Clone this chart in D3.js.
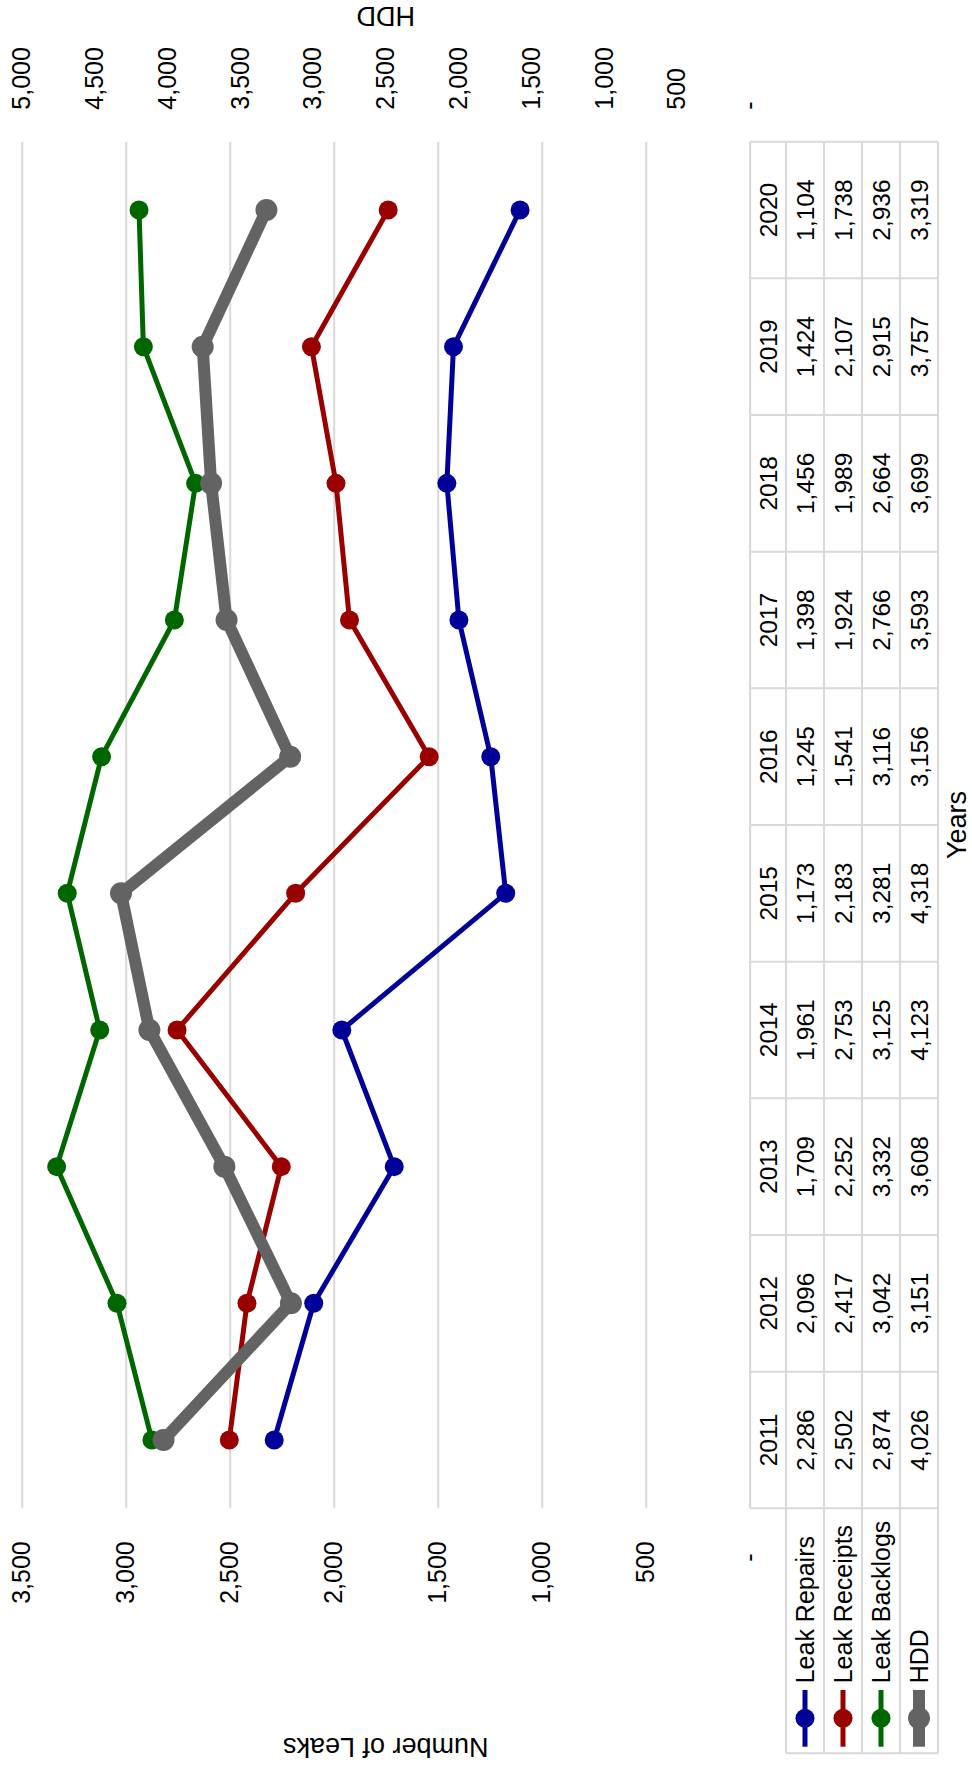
<!DOCTYPE html>
<html>
<head>
<meta charset="utf-8">
<script src="https://cdnjs.cloudflare.com/ajax/libs/d3/7.8.5/d3.min.js"></script>
<style>
    body { margin: 0; background: #fff; }
    text { font-family: "Liberation Sans", Arial, sans-serif; fill: #000; }
    .grid line { stroke: #d9d9d9; stroke-width: 2; }
    .grid path, .axis path { display: none; }
    .axis text { font-size: 25px; }
    .table-line { stroke: #d9d9d9; stroke-width: 2; }
    .cell { font-size: 24.5px; }
</style>
</head>
<body>
<div class="chart-container"></div>
<script>
var years = [2011, 2012, 2013, 2014, 2015, 2016, 2017, 2018, 2019, 2020];
var leakRepairs = [2286, 2096, 1709, 1961, 1173, 1245, 1398, 1456, 1424, 1104];
var leakReceipts = [2502, 2417, 2252, 2753, 2183, 1541, 1924, 1989, 2107, 1738];
var leakBacklogs = [2874, 3042, 3332, 3125, 3281, 3116, 2766, 2664, 2915, 2936];
var hdd = [4026, 3151, 3608, 4123, 4318, 3156, 3593, 3699, 3757, 3319];
var leftTicks = [0, 500, 1000, 1500, 2000, 2500, 3000, 3500];
var rightTicks = [0, 500, 1000, 1500, 2000, 2500, 3000, 3500, 4000, 4500, 5000];

var pageWidth = 972,
    pageHeight = 1771;

// the chart is built in landscape and then turned a quarter to the left
var width = pageHeight,
    height = pageWidth;

var plot = { left: 262.7, right: 1629.3, top: 21.7, bottom: 749.7 };

var svg = d3.select(".chart-container").append("svg")
    .attr("width", pageWidth)
    .attr("height", pageHeight);

var chart = svg.append("g")
    .attr("transform", "translate(0," + pageHeight + ") rotate(-90)");

var x = d3.scaleBand()
    .domain(years)
    .range([plot.left, plot.right]);

var yLeft = d3.scaleLinear()
    .domain([0, 3500])
    .range([plot.bottom, plot.top]);

var yRight = d3.scaleLinear()
    .domain([0, 5000])
    .range([plot.bottom, plot.top]);

var fmt = d3.format(",");
function tickText(d) { return d === 0 ? "-" : fmt(d); }

var series = [
    { name: "Leak Repairs", values: leakRepairs, color: "#000099", lineWidth: 5, r: 9.5, scale: yLeft },
    { name: "Leak Receipts", values: leakReceipts, color: "#990000", lineWidth: 5, r: 9.5, scale: yLeft },
    { name: "Leak Backlogs", values: leakBacklogs, color: "#006600", lineWidth: 5, r: 9.5, scale: yLeft },
    { name: "HDD", values: hdd, color: "#636363", lineWidth: 12, r: 11, scale: yRight }
];

// gridlines
chart.append("g")
    .attr("class", "grid")
    .attr("transform", "translate(" + plot.left + ",0)")
    .call(d3.axisLeft(yLeft).tickValues(leftTicks).tickSize(-(plot.right - plot.left)).tickFormat(""));

// left axis
var leftAxis = chart.append("g")
    .attr("class", "axis")
    .attr("transform", "translate(" + plot.left + ",0)")
    .call(d3.axisLeft(yLeft).tickValues(leftTicks).tickSize(0).tickPadding(33).tickFormat(tickText));

leftAxis.selectAll(".tick text")
    .filter(function(d) { return d === 0; })
    .attr("x", -45);

// right axis
chart.append("g")
    .attr("class", "axis")
    .attr("transform", "translate(" + plot.right + ",0)")
    .call(d3.axisRight(yRight).tickValues(rightTicks).tickSize(0).tickPadding(32).tickFormat(tickText));

// axis titles
chart.append("text")
    .attr("transform", "translate(33," + (plot.top + plot.bottom) / 2 + ") rotate(-90)")
    .style("text-anchor", "middle")
    .style("font-size", "27px")
    .text("Number of Leaks");

chart.append("text")
    .attr("transform", "translate(1764," + (plot.top + plot.bottom) / 2 + ") rotate(-90)")
    .style("text-anchor", "middle")
    .style("font-size", "27px")
    .text("HDD");

chart.append("text")
    .attr("x", (plot.left + plot.right) / 2)
    .attr("y", 966)
    .style("text-anchor", "middle")
    .style("font-size", "27px")
    .text("Years");

// series
var cx = function(d, i) { return x(years[i]) + x.bandwidth() / 2; };

var lines = chart.selectAll(".series")
    .data(series)
    .enter().append("g")
    .attr("class", "series");

lines.append("path")
    .attr("fill", "none")
    .attr("stroke", function(d) { return d.color; })
    .attr("stroke-width", function(d) { return d.lineWidth; })
    .attr("stroke-linejoin", "round")
    .attr("d", function(s) {
        return d3.line()
            .x(cx)
            .y(function(v) { return s.scale(v); })(s.values);
    });

lines.each(function(s) {
    d3.select(this).selectAll("circle")
        .data(s.values)
        .enter().append("circle")
        .attr("cx", cx)
        .attr("cy", function(v) { return s.scale(v); })
        .attr("r", s.r)
        .attr("fill", s.color);
});

// data table
var table = chart.append("g").attr("class", "data-table");
var tableTop = 750,
    headerBottom = 786,
    rowHeight = 38,
    legendLeft = 17.7;

var rowY = series.map(function(s, i) { return headerBottom + i * rowHeight; });
var tableBottom = headerBottom + series.length * rowHeight;

table.append("line")
    .attr("class", "table-line")
    .attr("x1", plot.left).attr("x2", plot.right)
    .attr("y1", tableTop).attr("y2", tableTop);

table.selectAll(".hline")
    .data(rowY.concat([tableBottom]))
    .enter().append("line")
    .attr("class", "table-line")
    .attr("x1", legendLeft).attr("x2", plot.right)
    .attr("y1", function(d) { return d; }).attr("y2", function(d) { return d; });

table.selectAll(".vline")
    .data(years.concat(["end"]))
    .enter().append("line")
    .attr("class", "table-line")
    .attr("x1", function(d, i) { return plot.left + i * x.bandwidth(); })
    .attr("x2", function(d, i) { return plot.left + i * x.bandwidth(); })
    .attr("y1", tableTop).attr("y2", tableBottom);

table.append("line")
    .attr("class", "table-line")
    .attr("x1", legendLeft).attr("x2", legendLeft)
    .attr("y1", headerBottom).attr("y2", tableBottom);

table.selectAll(".year-cell")
    .data(years)
    .enter().append("text")
    .attr("class", "cell")
    .attr("x", function(d) { return x(d) + x.bandwidth() / 2; })
    .attr("y", (tableTop + headerBottom) / 2)
    .attr("dy", "0.35em")
    .style("text-anchor", "middle")
    .text(function(d) { return d; });

series.forEach(function(s, i) {
    var rowMid = rowY[i] + rowHeight / 2;
    var row = table.append("g");

    row.selectAll("text")
        .data(s.values)
        .enter().append("text")
        .attr("class", "cell")
        .attr("x", cx)
        .attr("y", rowMid)
        .attr("dy", "0.35em")
        .style("text-anchor", "middle")
        .text(function(d) { return fmt(d); });

    // legend key
    row.append("line")
        .attr("x1", 24.3).attr("x2", 81)
        .attr("y1", rowMid).attr("y2", rowMid)
        .attr("stroke", s.color)
        .attr("stroke-width", s.lineWidth);

    row.append("circle")
        .attr("cx", 52.7)
        .attr("cy", rowMid)
        .attr("r", s.r)
        .attr("fill", s.color);

    row.append("text")
        .attr("x", 87.7)
        .attr("y", rowMid)
        .attr("dy", "0.35em")
        .style("font-size", "25px")
        .text(s.name);
});
</script>
</body>
</html>
